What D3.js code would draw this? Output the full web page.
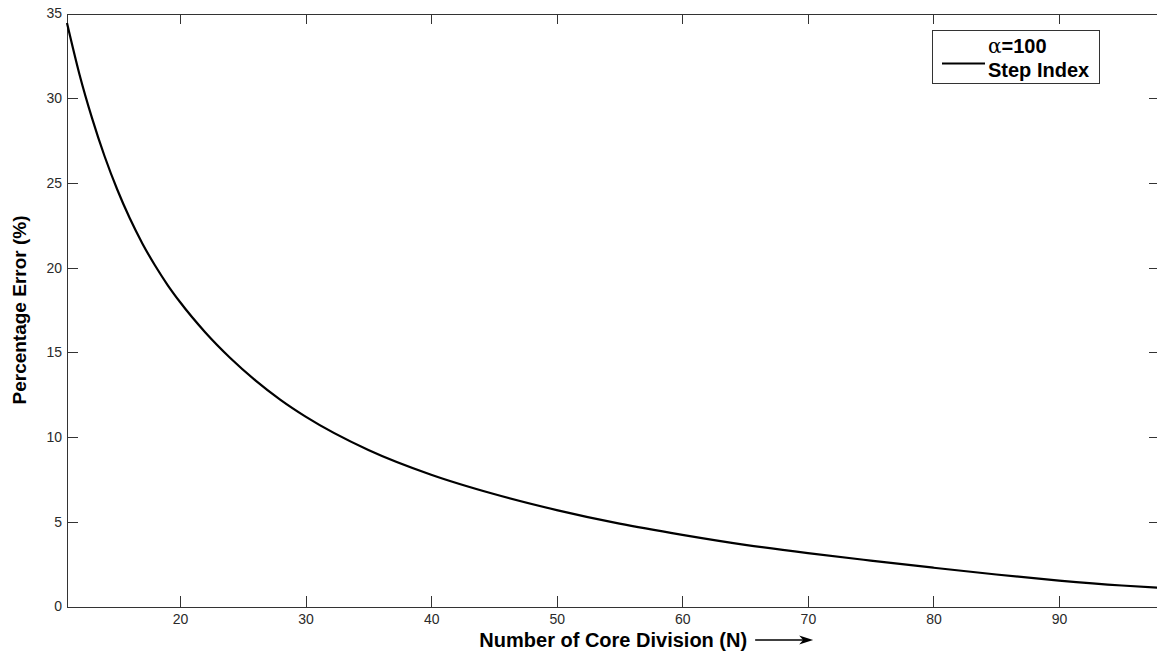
<!DOCTYPE html>
<html>
<head>
<meta charset="utf-8">
<script src="https://cdn.jsdelivr.net/npm/d3@7"></script>
<style>
  html, body { margin: 0; padding: 0; background: #fff; }
  svg { display: block; }
  .tick text { font-family: "Liberation Sans", Arial, sans-serif; font-size: 14px; fill: #2a2a2a; }
  .axis path, .axis line { stroke: #333; stroke-width: 1; shape-rendering: crispEdges; }
</style>
</head>
<body>
<svg id="chart" width="1157" height="653"></svg>
<script>
// Number of core divisions (N)
const coreDivisions = [11, 12, 13, 14, 15, 16, 17, 18, 19, 20, 22, 24, 26, 28, 30, 35, 40,
                       45, 50, 55, 60, 65, 70, 75, 80, 85, 90, 95, 98];
// Percentage error (%) for alpha = 100 / step index
const percentError = [34.44, 31.39, 28.81, 26.56, 24.61, 22.91, 21.43, 20.14, 18.99, 17.97, 16.19, 14.67, 13.35,
                      12.20, 11.21, 9.24, 7.78, 6.64, 5.69, 4.89, 4.23, 3.64, 3.15, 2.71, 2.29, 1.89, 1.53, 1.24, 1.11];
const xTicks = [20, 30, 40, 50, 60, 70, 80, 90];
const yTicks = [0, 5, 10, 15, 20, 25, 30, 35];
// Legend rows: [greek prefix, rest of the text]
const legendLines = [["\u03B1", "=100"], ["", "Step Index"]];

const svg = d3.select("#chart");
const plotLeft = 67, plotRight = 1159.5, plotTop = 13.5, plotBottom = 606.5;
const tickLen = 10.5;

const x = d3.scaleLinear().domain([11, 98]).range([plotLeft, plotRight]);
const y = d3.scaleLinear().domain([0, 35]).range([plotBottom, plotTop]);

// Axes box with inward ticks on all four sides
svg.append("g").attr("class", "axis").attr("transform", `translate(0,${plotBottom})`)
  .call(d3.axisBottom(x).tickValues(xTicks).tickSizeInner(-tickLen).tickSizeOuter(0).tickPadding(8));
svg.append("g").attr("class", "axis").attr("transform", `translate(0,${plotTop})`)
  .call(d3.axisTop(x).tickValues(xTicks).tickSizeInner(-tickLen).tickSizeOuter(0).tickFormat(""));
svg.append("g").attr("class", "axis").attr("transform", `translate(${plotLeft},0)`)
  .call(d3.axisLeft(y).tickValues(yTicks).tickSizeInner(-tickLen).tickSizeOuter(0).tickPadding(5));
svg.append("g").attr("class", "axis").attr("transform", `translate(${plotRight},0)`)
  .call(d3.axisRight(y).tickValues(yTicks).tickSizeInner(-tickLen).tickSizeOuter(0).tickFormat(""));

// The curve
const line = d3.line()
  .x((d, i) => x(coreDivisions[i]))
  .y(d => y(d))
  .curve(d3.curveMonotoneX);
svg.append("path")
  .datum(percentError)
  .attr("fill", "none")
  .attr("stroke", "#000")
  .attr("stroke-width", 2.2)
  .attr("stroke-linejoin", "round")
  .attr("d", line);

// Axis titles
const xTitle = svg.append("text")
  .attr("x", (plotLeft + plotRight) / 2).attr("y", 647)
  .attr("text-anchor", "middle")
  .style("font-family", "'Liberation Sans', Arial, sans-serif")
  .style("font-weight", "bold").style("font-size", "20px").style("fill", "#000")
  .text("Number of Core Division (N)");
const bb = xTitle.node().getBBox();
const ax0 = bb.x + bb.width + 8, ax1 = ax0 + 58, ay = 640;
svg.append("line").attr("x1", ax0).attr("x2", ax1 - 8).attr("y1", ay).attr("y2", ay)
  .attr("stroke", "#000").attr("stroke-width", 1.5);
svg.append("path")
  .attr("d", `M${ax1},${ay} L${ax1 - 14},${ay - 4.5} L${ax1 - 10},${ay} L${ax1 - 14},${ay + 4.5} Z`)
  .attr("fill", "#000");

svg.append("text")
  .attr("transform", `translate(26,${(plotTop + plotBottom) / 2}) rotate(-90)`)
  .attr("text-anchor", "middle")
  .style("font-family", "'Liberation Sans', Arial, sans-serif")
  .style("font-weight", "bold").style("font-size", "19px").style("fill", "#000")
  .text("Percentage Error (%)");

// Legend
const lg = svg.append("g");
lg.append("rect").attr("x", 932.5).attr("y", 30.5).attr("width", 167).attr("height", 53)
  .attr("fill", "#fff").attr("stroke", "#333").attr("stroke-width", 1);
lg.append("line").attr("x1", 942).attr("x2", 985).attr("y1", 63.5).attr("y2", 63.5)
  .attr("stroke", "#000").attr("stroke-width", 2);
const rows = lg.selectAll("text.leg").data(legendLines).join("text")
  .attr("class", "leg")
  .attr("text-anchor", "start")
  .attr("x", 988).attr("y", (d, i) => 53 + i * 23.5)
  .style("font-size", "20px").style("fill", "#000");
rows.append("tspan")
  .style("font-family", "'DejaVu Serif', serif")
  .style("font-weight", "normal")
  .text(d => d[0]);
rows.append("tspan")
  .style("font-family", "'Liberation Sans', Arial, sans-serif")
  .style("font-weight", "bold")
  .text(d => d[1]);
</script>
</body>
</html>
